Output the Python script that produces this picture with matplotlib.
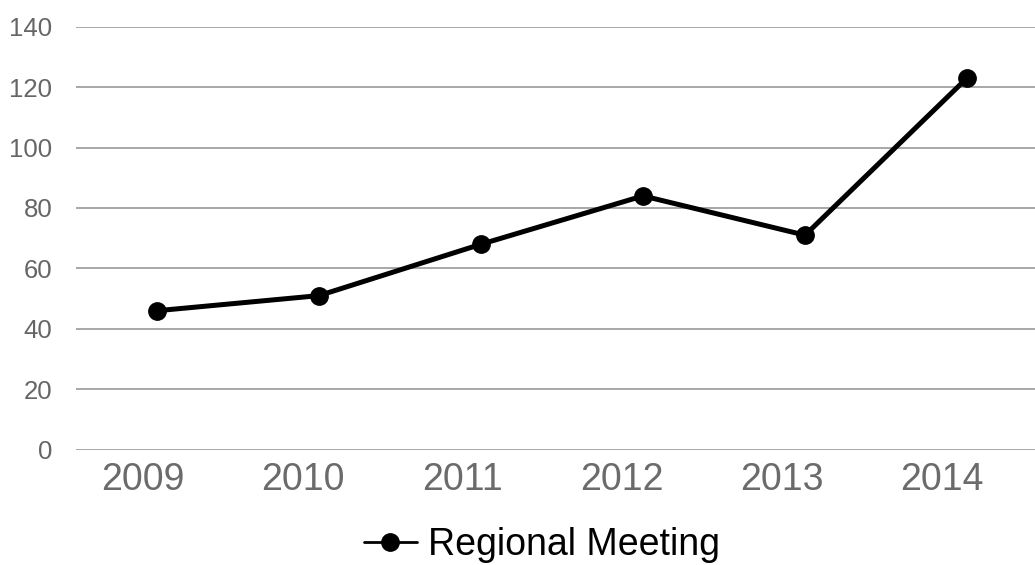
import matplotlib.pyplot as plt
import numpy as np

plt.rcParams['font.family'] = ['Liberation Sans', 'DejaVu Sans']

years = ['2009', '2010', '2011', '2012', '2013', '2014']
meeting = [46, 51, 68, 84, 71, 123]
y_ticks = [0, 20, 40, 60, 80, 100, 120, 140]

W, H = 1035, 565
fig = plt.figure(figsize=(W / 100, H / 100), dpi=100)
left, right = 76, 1048
top, bottom = 26.7, 449.7
ax = fig.add_axes([left / W, (H - bottom) / H, (right - left) / W, (bottom - top) / H])

x = np.arange(len(years))
ax.plot(x, meeting, color='black', lw=3.6, marker='o', markersize=12.5,
        label='Regional Meeting', solid_capstyle='round')

ax.set_xlim(-0.5, len(years) - 0.5)
ax.set_ylim(0, 140)
ax.set_yticks(y_ticks)
# category labels sit a little left of the points in the original
ax.set_xticks(x * 0.986 - 0.087)
ax.set_xticklabels(years)
ax.grid(axis='y', color='#a0a0a0', lw=1.3)
ax.set_axisbelow(True)
for s in ax.spines.values():
    s.set_visible(False)
ax.tick_params(axis='y', length=0, pad=17, labelsize=18.5, labelcolor='#666666')
ax.tick_params(axis='x', length=0, pad=9, labelsize=27, labelcolor='#6b6b6b')

leg = fig.legend(loc='center', bbox_to_anchor=(542 / W, 20 / H), frameon=False,
                 fontsize=27, handlelength=1.4, handletextpad=0.3)
leg.get_lines()[0].set_linewidth(2)

fig.savefig('out.png', dpi=100)
